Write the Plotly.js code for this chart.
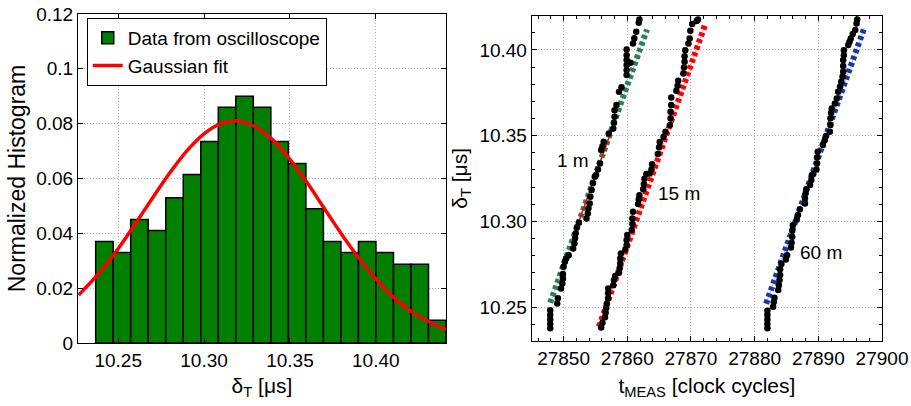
<!DOCTYPE html>
<html>
<head>
<meta charset="utf-8">
<script src="https://cdn.plot.ly/plotly-3.0.1.min.js"></script>
<style>html,body{margin:0;padding:0;background:#fff;}#chart{width:911px;height:406px;}</style>
</head>
<body>
<div id="chart"></div>
<script>
// ---- Left panel: histogram of delta_T ----
var binCenters = [10.2420, 10.2522, 10.2624, 10.2726, 10.2828, 10.2930, 10.3032, 10.3134, 10.3236, 10.3338,
                  10.3440, 10.3542, 10.3644, 10.3746, 10.3848, 10.3950, 10.4052, 10.4154, 10.4256, 10.4358];
var binWidth = 0.0102;
var histValues = [0.037, 0.033, 0.045, 0.041, 0.053, 0.0615, 0.0735, 0.086, 0.090, 0.086,
                  0.0735, 0.0655, 0.049, 0.037, 0.033, 0.037, 0.033, 0.0287, 0.0287, 0.0083];
var fitX = [10.227, 10.24, 10.25, 10.26, 10.27, 10.28, 10.29, 10.30, 10.31, 10.318, 10.32, 10.33,
            10.34, 10.35, 10.36, 10.37, 10.38, 10.39, 10.40, 10.41, 10.42, 10.43, 10.441];
var fitY = [0.0175, 0.0263, 0.0344, 0.0435, 0.0529, 0.0620, 0.0701, 0.0763, 0.0801, 0.0810, 0.0810, 0.0789,
            0.0741, 0.0670, 0.0585, 0.0491, 0.0398, 0.0311, 0.0234, 0.0169, 0.0118, 0.0080, 0.0049];

// ---- Right panel: delta_T vs t_MEAS ----
var x1m = [27847.9, 27847.9, 27847.9, 27847.9, 27847.9, 27849.0, 27849.1, 27849.6, 27849.8, 27849.9,
           27849.9, 27850.0, 27850.2, 27850.4, 27850.8, 27851.5, 27851.7, 27851.8, 27851.9, 27852.1,
           27852.4, 27853.6, 27853.8, 27853.9, 27854.1, 27854.2, 27854.4, 27854.6, 27854.9, 27855.1,
           27855.4, 27855.7, 27855.9, 27856.1, 27856.3, 27857.1, 27857.8, 27857.9, 27858.0, 27858.0,
           27858.3, 27858.7, 27859.1, 27859.9, 27859.9, 27859.9, 27859.9, 27859.9, 27859.9, 27860.5,
           27860.9, 27861.1, 27861.4, 27861.8, 27861.9];
var y1m = [10.2376, 10.2401, 10.2428, 10.2453, 10.2482, 10.2521, 10.2551, 10.2609, 10.2638, 10.2667,
           10.2693, 10.2735, 10.2764, 10.2784, 10.2803, 10.2842, 10.2871, 10.2901, 10.2930, 10.2965,
           10.2992, 10.3017, 10.3046, 10.3076, 10.3105, 10.3144, 10.3183, 10.3222, 10.3260, 10.3270,
           10.3303, 10.3338, 10.3416, 10.3439, 10.3465, 10.3513, 10.3542, 10.3575, 10.3610, 10.3649,
           10.3679, 10.3756, 10.3782, 10.3854, 10.3883, 10.3912, 10.3941, 10.3970, 10.4003, 10.3926,
           10.4038, 10.4068, 10.4106, 10.4159, 10.4178];
var x15m = [27855.9, 27856.1, 27856.5, 27856.6, 27856.7, 27856.8, 27857.0, 27857.0, 27857.0, 27857.8,
            27857.9, 27858.1, 27858.7, 27858.8, 27858.9, 27858.9, 27859.0, 27859.7, 27859.9, 27859.9,
            27860.0, 27860.7, 27860.8, 27860.8, 27860.9, 27861.7, 27861.8, 27861.9, 27862.5, 27862.6,
            27862.7, 27863.0, 27863.5, 27863.8, 27863.9, 27864.8, 27865.0, 27865.1, 27865.7, 27866.0,
            27866.7, 27866.8, 27866.8, 27866.9, 27866.9, 27867.7, 27867.9, 27868.0, 27868.8, 27868.9,
            27869.0, 27869.0, 27869.1, 27869.6, 27869.8, 27869.9, 27870.2, 27870.9, 27871.1];
var y15m = [10.2381, 10.2409, 10.2440, 10.2467, 10.2494, 10.2521, 10.2551, 10.2580, 10.2609, 10.2628,
            10.2658, 10.2681, 10.2700, 10.2726, 10.2755, 10.2784, 10.2813, 10.2836, 10.2862, 10.2891,
            10.2920, 10.2949, 10.2984, 10.3017, 10.3056, 10.3101, 10.3128, 10.3153, 10.3187, 10.3218,
            10.3249, 10.3276, 10.3280, 10.3303, 10.3334, 10.3393, 10.3432, 10.3463, 10.3494, 10.3523,
            10.3562, 10.3601, 10.3640, 10.3679, 10.3723, 10.3762, 10.3791, 10.3820, 10.3863, 10.3898,
            10.3931, 10.3964, 10.3999, 10.4038, 10.4067, 10.4112, 10.4151, 10.4169, 10.4178];
var x60m = [27882.0, 27882.0, 27882.0, 27882.0, 27882.0, 27882.9, 27883.0, 27883.1, 27883.7, 27883.8,
            27883.9, 27884.0, 27884.0, 27884.2, 27884.9, 27885.1, 27885.7, 27885.8, 27885.9, 27885.9,
            27886.0, 27886.6, 27886.8, 27887.1, 27887.9, 27887.9, 27888.0, 27888.1, 27888.7, 27888.9,
            27889.0, 27889.2, 27889.7, 27889.8, 27889.8, 27889.9, 27890.7, 27891.0, 27891.2, 27891.8,
            27891.9, 27891.9, 27892.0, 27892.1, 27892.6, 27892.9, 27893.1, 27893.4, 27893.6, 27893.8,
            27893.9, 27893.9, 27893.9, 27894.0, 27894.0, 27894.7, 27894.9, 27895.1, 27895.4, 27895.8,
            27896.0, 27896.1];
var y60m = [10.2376, 10.2401, 10.2428, 10.2453, 10.2479, 10.2502, 10.2529, 10.2554, 10.2599, 10.2628,
            10.2658, 10.2687, 10.2720, 10.2751, 10.2778, 10.2803, 10.2848, 10.2875, 10.2910, 10.2945,
            10.2978, 10.3011, 10.3037, 10.3070, 10.3105, 10.3134, 10.3163, 10.3187, 10.3212, 10.3241,
            10.3270, 10.3276, 10.3303, 10.3338, 10.3373, 10.3406, 10.3445, 10.3474, 10.3498, 10.3523,
            10.3562, 10.3601, 10.3634, 10.3659, 10.3688, 10.3717, 10.3756, 10.3785, 10.3815, 10.3844,
            10.3873, 10.3906, 10.3941, 10.3970, 10.3999, 10.4029, 10.4048, 10.4067, 10.4093, 10.4116,
            10.4155, 10.4178];
var fit1mX = [27847.9, 27863.1],  fit1mY = [10.2525, 10.412];
var red1mX = [27852.4, 27857.9],  red1mY = [10.300, 10.357];
var fit15mX = [27855.55, 27872.2], fit15mY = [10.2385, 10.4146];
var fit60mX = [27881.8, 27897.2], fit60mY = [10.252, 10.4127];
var labelText = ['1 m', '15 m', '60 m'];
var labelX = [27851.4, 27868.1, 27890.4];
var labelY = [10.3358, 10.3165, 10.282];

var FONT = 'Liberation Sans, Arial, Helvetica, sans-serif';
var GREEN_BAR = '#007f00';
var FIT_GREEN = '#2e7d5b', FIT_RED = '#ff0000', FIT_BLUE = '#1a3a99';

function fitTraces(xs, ys, color) {
  return [
    {x: xs, y: ys, xaxis: 'x2', yaxis: 'y2', mode: 'lines', showlegend: false,
     line: {color: color, width: 1}, opacity: 0.35},
    {x: xs, y: ys, xaxis: 'x2', yaxis: 'y2', mode: 'lines', showlegend: false,
     line: {color: color, width: 6, dash: '4px,3px'}}
  ];
}
function dots(xs, ys) {
  return {x: xs, y: ys, xaxis: 'x2', yaxis: 'y2', mode: 'markers', showlegend: false,
          marker: {color: 'black', size: 6.5}};
}

var traces = [
  {type: 'bar', x: binCenters, y: histValues, width: binWidth, name: 'Data from oscilloscope',
   marker: {color: GREEN_BAR, line: {color: 'black', width: 1.5}}, xaxis: 'x', yaxis: 'y'},
  {type: 'scatter', mode: 'lines', x: fitX, y: fitY, name: 'Gaussian fit', line: {color: '#ff0000', width: 3.5, shape: 'spline'},
   xaxis: 'x', yaxis: 'y'}
].concat(fitTraces(fit1mX, fit1mY, FIT_GREEN))
 .concat([{x: red1mX, y: red1mY, xaxis: 'x2', yaxis: 'y2', mode: 'lines', showlegend: false, line: {color: '#ff0000', width: 1.5}}])
 .concat(fitTraces(fit15mX, fit15mY, FIT_RED))
 .concat(fitTraces(fit60mX, fit60mY, FIT_BLUE))
 .concat([dots(x1m, y1m), dots(x15m, y15m), dots(x60m, y60m)]);

var axisCommon = {
  showline: true, linecolor: 'black', linewidth: 1, mirror: 'ticks',
  ticks: 'inside', ticklen: 5, tickcolor: 'black', tickwidth: 1,
  showgrid: true, gridcolor: '#b0b0b0', griddash: '1px,2px', gridwidth: 1,
  zeroline: false, tickfont: {family: FONT, size: 19, color: 'black'}
};
function ax(extra) { return Object.assign({}, axisCommon, extra); }

var annotations = labelText.map(function (t, i) {
  return {text: t, x: labelX[i], y: labelY[i], xref: 'x2', yref: 'y2', showarrow: false,
          font: {family: FONT, size: 19, color: 'black'}};
});

var layout = {
  width: 911, height: 406,
  margin: {l: 0, r: 0, t: 0, b: 0},
  paper_bgcolor: 'white', plot_bgcolor: 'white',
  font: {family: FONT, color: 'black'},
  bargap: 0,
  showlegend: true,
  legend: {x: 0.0952, y: 0.9557, xanchor: 'left', yanchor: 'top',
           bgcolor: 'white', bordercolor: 'black', borderwidth: 1,
           font: {family: FONT, size: 19, color: 'black'}, tracegroupgap: 0},
  xaxis: ax({domain: [0.0856, 0.4896], range: [10.2266, 10.4409], tick0: 10.25, dtick: 0.05, tickformat: '.2f',
             anchor: 'y', title: {text: 'δ<sub>T</sub> [μs]', font: {family: FONT, size: 21}, standoff: 8}}),
  yaxis: ax({domain: [0.1552, 0.9655], range: [0, 0.12], dtick: 0.02, anchor: 'x',
             title: {text: 'Normalized Histogram', font: {family: FONT, size: 23}, standoff: 4}}),
  xaxis2: ax({domain: [0.5837, 0.9682], range: [27845, 27900], tick0: 27850, dtick: 10, tickformat: 'd',
              anchor: 'y2', minor: {dtick: 2, ticks: 'inside', ticklen: 3, tickcolor: 'black', showgrid: false},
              title: {text: 't<sub>MEAS</sub> [clock cycles]', font: {family: FONT, size: 21}, standoff: 10}}),
  yaxis2: ax({domain: [0.1601, 0.9613], range: [10.2302, 10.42], tick0: 10.25, dtick: 0.05, tickformat: '.2f',
              anchor: 'x2', minor: {dtick: 0.01, ticks: 'inside', ticklen: 3, tickcolor: 'black', showgrid: false},
              title: {text: 'δ<sub>T</sub> [μs]', font: {family: FONT, size: 21}, standoff: 6}}),
  annotations: annotations
};

Plotly.newPlot('chart', traces, layout, {staticPlot: true, displayModeBar: false});
</script>
</body>
</html>
